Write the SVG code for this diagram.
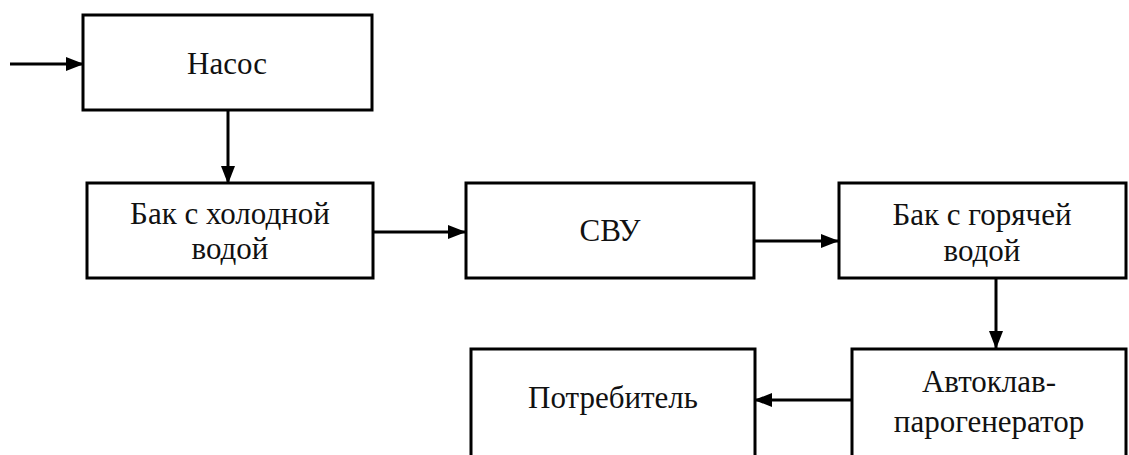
<svg xmlns="http://www.w3.org/2000/svg" width="1129" height="455" viewBox="0 0 1129 455">
<style>
.box{fill:#fff;stroke:#000;stroke-width:3}
.lbl{font-family:"Liberation Serif","Times New Roman",serif;font-size:31px;fill:#111;text-anchor:middle}
.con{stroke:#000;stroke-width:3;fill:none;marker-end:url(#ah)}
</style>
<defs>
<marker id="ah" markerWidth="18" markerHeight="14" refX="17" refY="7" orient="auto" markerUnits="userSpaceOnUse">
<path d="M0,0 L18,7 L0,14 Z" fill="#000"/>
</marker>
</defs>
<rect width="1129" height="455" fill="#fff"/>
<g id="connectors">
<line class="con" x1="10" y1="64" x2="83" y2="64"/>
<line class="con" x1="228" y1="110" x2="228" y2="183"/>
<line class="con" x1="373" y1="232" x2="465" y2="232"/>
<line class="con" x1="754" y1="241" x2="838" y2="241"/>
<line class="con" x1="996" y1="278" x2="996" y2="348"/>
<line class="con" x1="852" y1="400" x2="755" y2="400"/>
</g>
<g id="nasos">
<rect class="box" x="83" y="15" width="289" height="95"/>
<text class="lbl" x="227" y="74">Насос</text>
</g>
<g id="bak-cold">
<rect class="box" x="87" y="183" width="286" height="95"/>
<text class="lbl" x="230" y="224">Бак с холодной</text>
<text class="lbl" x="230" y="259">водой</text>
</g>
<g id="svu">
<rect class="box" x="466" y="183" width="288" height="95"/>
<text class="lbl" x="610" y="241">СВУ</text>
</g>
<g id="bak-hot">
<rect class="box" x="839" y="183" width="287" height="95"/>
<text class="lbl" x="982" y="225">Бак с горячей</text>
<text class="lbl" x="982" y="261">водой</text>
</g>
<g id="avtoklav">
<rect class="box" x="852" y="349" width="274" height="130"/>
<text class="lbl" x="989" y="392">Автоклав-</text>
<text class="lbl" x="989" y="432">парогенератор</text>
</g>
<g id="potrebitel">
<rect class="box" x="471" y="349" width="284" height="130"/>
<text class="lbl" x="613" y="408">Потребитель</text>
</g>
</svg>
